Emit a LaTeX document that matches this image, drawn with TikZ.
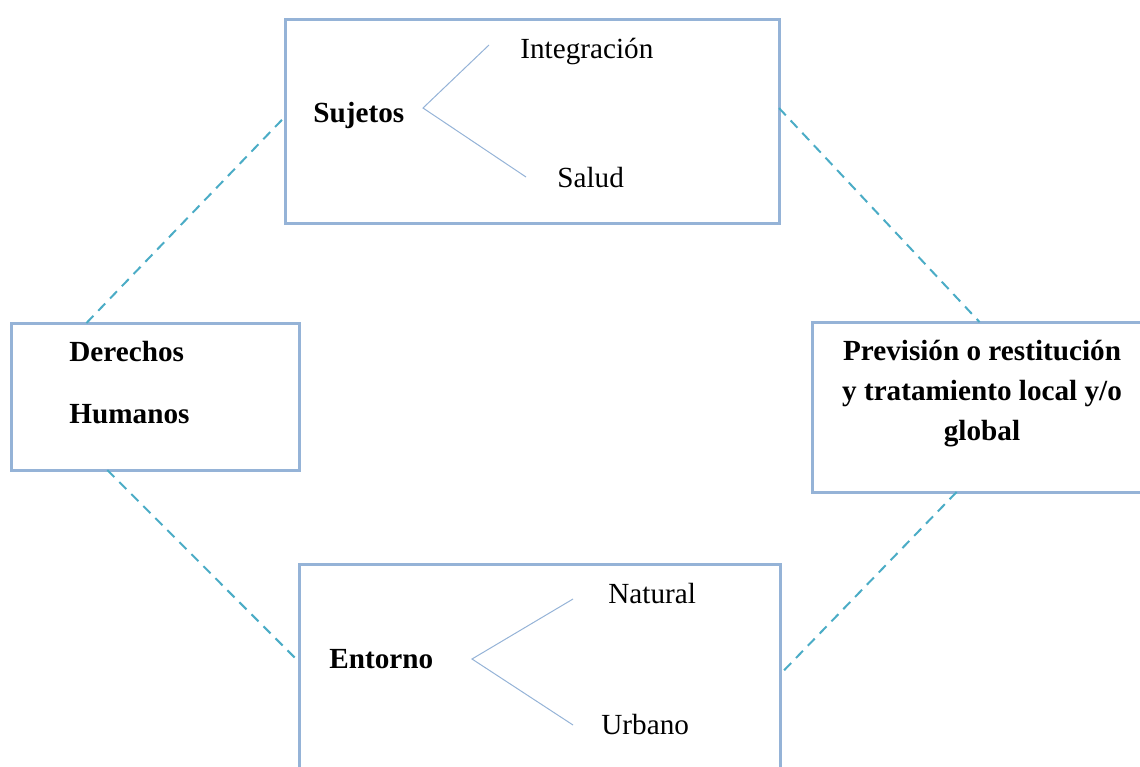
\documentclass[tikz,border=0pt]{standalone}
\usepackage{fontspec}
\setmainfont{Liberation Serif}
\definecolor{boxblue}{RGB}{149,179,215}
\definecolor{linkteal}{RGB}{75,172,198}
\tikzset{
  box/.style={draw=boxblue, line width=1.5pt, rectangle, inner sep=0pt, outer sep=0pt},
  link/.style={draw=linkteal, line width=1pt, dash pattern=on 5pt off 3.5pt},
  branch/.style={draw=boxblue, line width=0.5pt},
  label/.style={inner sep=0pt, font=\fontsize{14.6pt}{17pt}\selectfont}
}
\begin{document}
\begin{tikzpicture}[x=0.5pt, y=-0.5pt]
    \useasboundingbox (0,0) rectangle (1140,766);
    \clip (0,0) rectangle (1140,766);

    % Draw boxes
    \node[box, minimum width=247pt, minimum height=102pt] (suj) at (532, 121) {};
    \node[box, minimum width=144pt, minimum height=73.5pt] (der) at (155, 396.5) {};
    \node[box, minimum width=169pt, minimum height=85pt] (prev) at (981, 407) {};
    \node[box, minimum width=240.5pt, minimum height=110.5pt] (ent) at (539.5, 674.5) {};

    % Draw texts
    \node[label, anchor=base west, font=\fontsize{14.6pt}{17pt}\selectfont\bfseries] (sujtitle) at (313, 122) {Sujetos};
    \node[label, anchor=base west] (integ) at (520, 58) {Integración};
    \node[label, anchor=base west] (salud) at (557, 187) {Salud};

    \node[label, anchor=base west, font=\fontsize{14.6pt}{17pt}\selectfont\bfseries] (der1) at (69, 361) {Derechos};
    \node[label, anchor=base west, font=\fontsize{14.6pt}{17pt}\selectfont\bfseries] (der2) at (69, 423) {Humanos};

    \node[label, anchor=base, font=\fontsize{14.6pt}{17pt}\selectfont\bfseries] (prev1) at (982, 360) {Previsión o restitución};
    \node[label, anchor=base, font=\fontsize{14.6pt}{17pt}\selectfont\bfseries] (prev2) at (982, 400) {y tratamiento local y/o};
    \node[label, anchor=base, font=\fontsize{14.6pt}{17pt}\selectfont\bfseries] (prev3) at (982, 440) {global};

    \node[label, anchor=base west, font=\fontsize{14.6pt}{17pt}\selectfont\bfseries] (enttitle) at (329, 668) {Entorno};
    \node[label, anchor=base west] (natural) at (608, 603) {Natural};
    \node[label, anchor=base west] (urbano) at (601, 734) {Urbano};

    % Draw branches
    \coordinate (sujapex) at (423, 108);
    \coordinate (sujup) at (489, 45);
    \coordinate (sujdown) at (526, 177);
    \coordinate (entapex) at (472, 659);
    \coordinate (entup) at (573, 599);
    \coordinate (entdown) at (573, 725);

    \draw[branch] (sujup) -- (sujapex) -- (sujdown);
    \draw[branch] (entup) -- (entapex) -- (entdown);

    % Draw dashed links
    \draw[link] (der.133) -- (suj.179);
    \draw[link] (suj.3) -- (prev.91);
    \draw[link] (der.237) -- (ent.177);
    \draw[link] (prev.254) -- (ent.0);
\end{tikzpicture}
\end{document}
